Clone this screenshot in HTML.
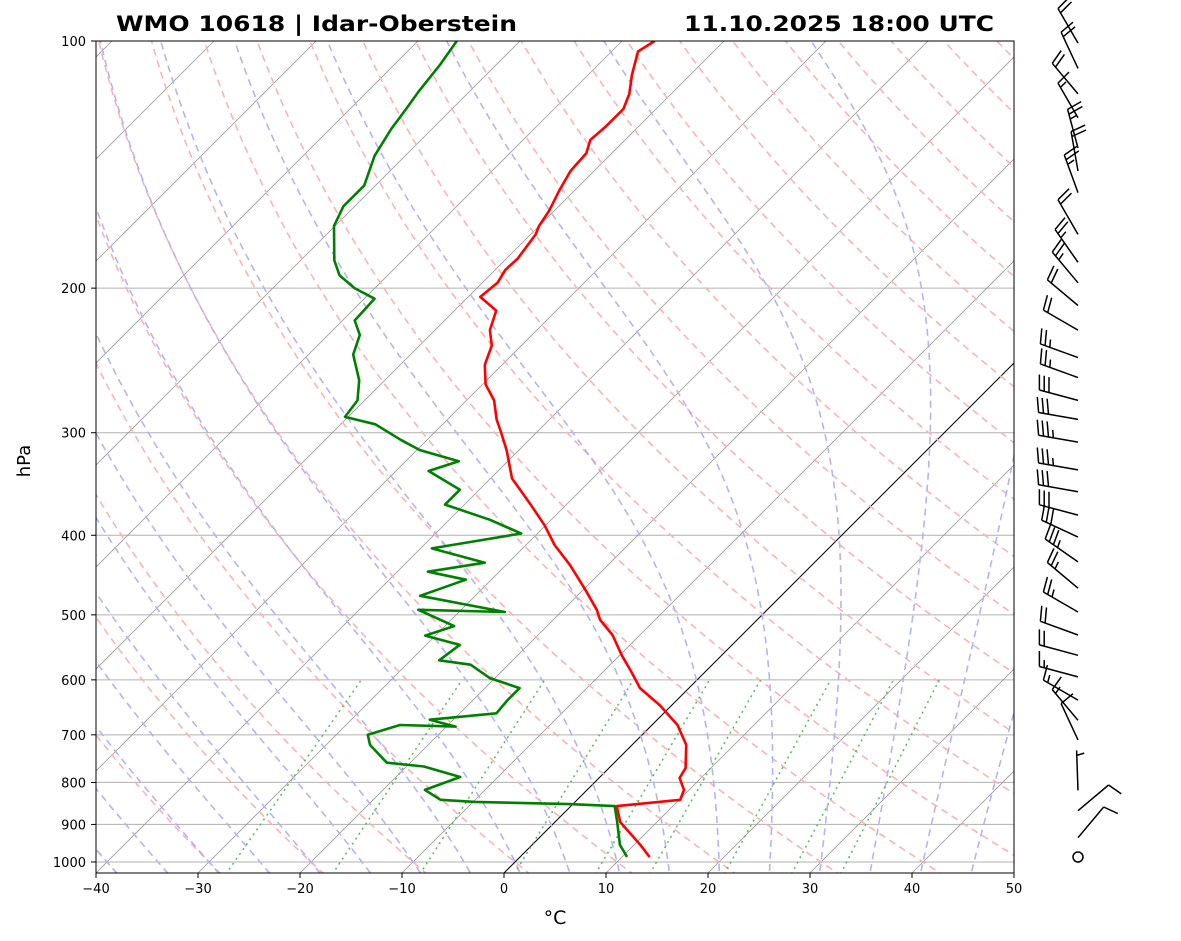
<!DOCTYPE html>
<html><head><meta charset="utf-8"><style>
body{margin:0;background:#fff;}
svg{display:block;font-family:"DejaVu Sans","Liberation Sans",sans-serif;}
</style></head><body>
<svg id="chart" width="1181" height="941" viewBox="0 0 1181 941" xmlns="http://www.w3.org/2000/svg">
<defs><clipPath id="plotclip"><rect x="96" y="41" width="918" height="832"/></clipPath></defs>
<rect width="1181" height="941" fill="#fff"/>
<g id="bg" clip-path="url(#plotclip)"></g>
<g id="series" clip-path="url(#plotclip)"></g>
<rect x="96" y="41" width="918" height="832" fill="none" stroke="#000" stroke-width="1"/>
<g id="axes"></g>
<g id="barbs"></g>
<text x="116" y="31" font-size="21" font-weight="bold" textLength="401" lengthAdjust="spacingAndGlyphs">WMO 10618 | Idar-Oberstein</text>
<text x="684" y="31" font-size="21" font-weight="bold" textLength="310" lengthAdjust="spacingAndGlyphs">11.10.2025 18:00 UTC</text>
<text x="555" y="924" font-size="19" text-anchor="middle">°C</text>
<text x="30" y="461" font-size="18" text-anchor="middle" transform="rotate(-90 30 461)">hPa</text>
</svg>
<script>
const tempP=[100,103,110,116,121,127,132,137,144,152,161,168,172,184,190,197,205,213,225,235,248,262,274,289,299,315,341,367,389,411,435,466,493,507,529,560,587,614,644,681,720,768,790,817,840,855,894,953,986];
const tempT=[-66.8,-67.4,-65.7,-64.1,-63.2,-63.2,-63.4,-62.5,-62.3,-61.5,-60.5,-60,-59.5,-58.9,-59,-58.5,-58.8,-55.9,-54.6,-52.9,-51.7,-49.7,-47.3,-45.2,-43.6,-41.2,-37.9,-33.5,-30.1,-27.2,-23.7,-19.8,-16.7,-15.4,-12.7,-9.8,-7.2,-4.8,-1.2,2.5,5.3,7.5,7.9,9.5,10.1,4.5,6.4,10.6,12.7];
const dewP=[100,107,115,121,128,138,150,159,168,185,193,200,206,219,228,241,259,274,287,293,306,315,325,334,352,367,383,398,415,432,443,453,474,496,493,516,530,544,568,575,597,614,635,659,671,684,681,700,720,757,765,788,817,840,845,850,855,894,953,986];
const dewT=[-86.2,-85.5,-85,-84.5,-84,-83,-81.1,-81.1,-80.1,-76.7,-74.7,-72,-69,-68.8,-66.9,-65.6,-62.5,-60.7,-60.3,-56.6,-52.6,-49.7,-44.8,-46.8,-41.9,-41.9,-36,-31.6,-38.9,-32.3,-37,-32.5,-35.4,-25.5,-34.2,-29.1,-31,-26.7,-27.2,-23.7,-20.5,-16.6,-16.6,-16.4,-22.3,-19.1,-24.7,-26.9,-25.7,-22.3,-18.3,-13.7,-15.9,-13.4,-9.8,-0.4,4.3,6.1,8.6,10.5];
const windP=[100.6,108,116,124,135,144,153,172,186,197,210,225,243,257,274,289,308,333,354,378,402,431,464,496,529,560,595,635,672,710,818,866,934];
const windSpd=[20,20,20,15,25,20,25,20,25,25,20,20,25,25,30,30,35,35,30,30,30,35,25,25,20,20,15,15,15,10,5,10,10];
const windDir=[330,335,320,330,345,350,340,330,325,320,310,300,290,290,285,280,280,280,280,285,295,305,310,300,290,285,285,300,320,335,358,50,40];
const xTicks=[-40,-30,-20,-10,0,10,20,30,40,50];
const pTicks=[100,200,300,400,500,600,700,800,900,1000];

const NS='http://www.w3.org/2000/svg';
const Y=p=>41+821*Math.log10(p/100);
const X=(T,p)=>96+(T+40)*10.2+(873-Y(p));
function mk(tag,attrs,parent){const e=document.createElementNS(NS,tag);for(const k in attrs)e.setAttribute(k,attrs[k]);parent.appendChild(e);return e;}
const bg=document.getElementById('bg'),series=document.getElementById('series'),axes=document.getElementById('axes'),barbs=document.getElementById('barbs');
function pathFrom(ps,ts){return ps.map((p,i)=>(i?'L':'M')+X(ts[i],p).toFixed(1)+','+Y(p).toFixed(1)).join(' ');}
const levels=[];for(let p=1060;p>=95;p-=5)levels.push(p);

pTicks.forEach(p=>{const l=mk('line',{x1:96,x2:1014,y1:Y(p),y2:Y(p),stroke:'#b0b0b0','stroke-width':1},bg);

});
for(let T=-120;T<=50;T+=10){const l=mk('line',{x1:X(T,1060),y1:Y(1060),x2:X(T,95),y2:Y(95),stroke:T===0?'#000':'#999','stroke-width':T===0?1:0.8},bg);

}
for(let t0=-40;t0<=200;t0+=10){const th=t0+273.15;const d=levels.map((p,i)=>(i?'L':'M')+X(th*Math.pow(p/1000,0.2857)-273.15,p).toFixed(1)+','+Y(p).toFixed(1)).join(' ');
const l=mk('path',{d:d,fill:'none',stroke:'#f8b4b4','stroke-width':1.6,'stroke-dasharray':'7,5'},bg);

}
function es(T){return 6.112*Math.exp(17.67*T/(T+243.5));}
function dTdp(T,p){const Tk=T+273.15;const rs=0.622*es(T)/(p-es(T));const Rd=287,Lv=2.5e6,Cp=1005;
return (1/p)*(Rd*Tk+Lv*rs)/(Cp+Lv*Lv*rs*0.622/(Rd*Tk*Tk));}
for(let t0=-40;t0<=45;t0+=5){let pts=[];let T=t0,p=1000;pts.push([p,T]);
while(p>100){const dp=-2;T+=dTdp(T,p)*dp;p+=dp;pts.push([p,T]);}
T=t0;p=1000;let lower=[];while(p<1060){const dp=2;T+=dTdp(T,p)*dp;p+=dp;lower.push([p,T]);}
pts=lower.reverse().concat(pts);
const d=pts.map((q,i)=>(i?'L':'M')+X(q[1],q[0]).toFixed(1)+','+Y(q[0]).toFixed(1)).join(' ');
const l=mk('path',{d:d,fill:'none',stroke:'#b4b4f4','stroke-width':1.6,'stroke-dasharray':'7,5'},bg);

}
[0.0004,0.001,0.002,0.004,0.007,0.01,0.016,0.024,0.032].forEach(w=>{const ps=[1050,600];
const d=ps.map((p,i)=>{const e=p*w/(0.622+w);const a=Math.log(e/6.112);const T=243.5*a/(17.67-a);return (i?'L':'M')+X(T,p).toFixed(1)+','+Y(p).toFixed(1);}).join(' ');
const l=mk('path',{d:d,fill:'none',stroke:'#5cb85c','stroke-width':1.5,'stroke-dasharray':'2,4'},bg);

});
const tl=mk('path',{d:pathFrom(tempP,tempT),fill:'none',stroke:'#ff0000','stroke-width':2.6,'stroke-linejoin':'round'},series);


const dl=mk('path',{d:pathFrom(dewP,dewT),fill:'none',stroke:'#008000','stroke-width':2.6,'stroke-linejoin':'round'},series);


xTicks.forEach(t=>{const x=96+(t+40)*10.2;mk('line',{x1:x,x2:x,y1:873,y2:878,stroke:'#000'},axes);
const tx=mk('text',{x:x,y:893,'font-size':13,'text-anchor':'middle'},axes);tx.textContent=(t<0?'\u2212'+(-t):t);

});
pTicks.forEach(p=>{const y=Y(p);mk('line',{x1:91,x2:96,y1:y,y2:y,stroke:'#000'},axes);
const tx=mk('text',{x:86,y:y+5,'font-size':13,'text-anchor':'end'},axes);tx.textContent=p;

});
const bx=1078;
windP.forEach((p,i)=>{const y=Y(p);const a=windDir[i]*Math.PI/180;const ux=Math.sin(a),uy=-Math.cos(a);const L=40;
const ex=bx+ux*L,ey=y+uy*L;let d='M'+bx+','+y.toFixed(1)+' L'+ex.toFixed(1)+','+ey.toFixed(1);
const px=-uy,py=ux;let s=windSpd[i];let pos=0;
while(s>=10){const sx=ex-ux*pos,sy=ey-uy*pos;d+=' M'+sx.toFixed(1)+','+sy.toFixed(1)+' L'+(sx+px*15+ux*4).toFixed(1)+','+(sy+py*15+uy*4).toFixed(1);s-=10;pos+=5;}
if(s>=5){if(pos===0)pos=5;const sx=ex-ux*pos,sy=ey-uy*pos;d+=' M'+sx.toFixed(1)+','+sy.toFixed(1)+' L'+(sx+px*7.5+ux*2).toFixed(1)+','+(sy+py*7.5+uy*2).toFixed(1);}
const g=mk('path',{d:d,fill:'none',stroke:'#000','stroke-width':1.5},barbs);

});
const c=mk('circle',{cx:1078,cy:857,r:5,fill:'none',stroke:'#000','stroke-width':1.5},barbs);


</script>
</body></html>
